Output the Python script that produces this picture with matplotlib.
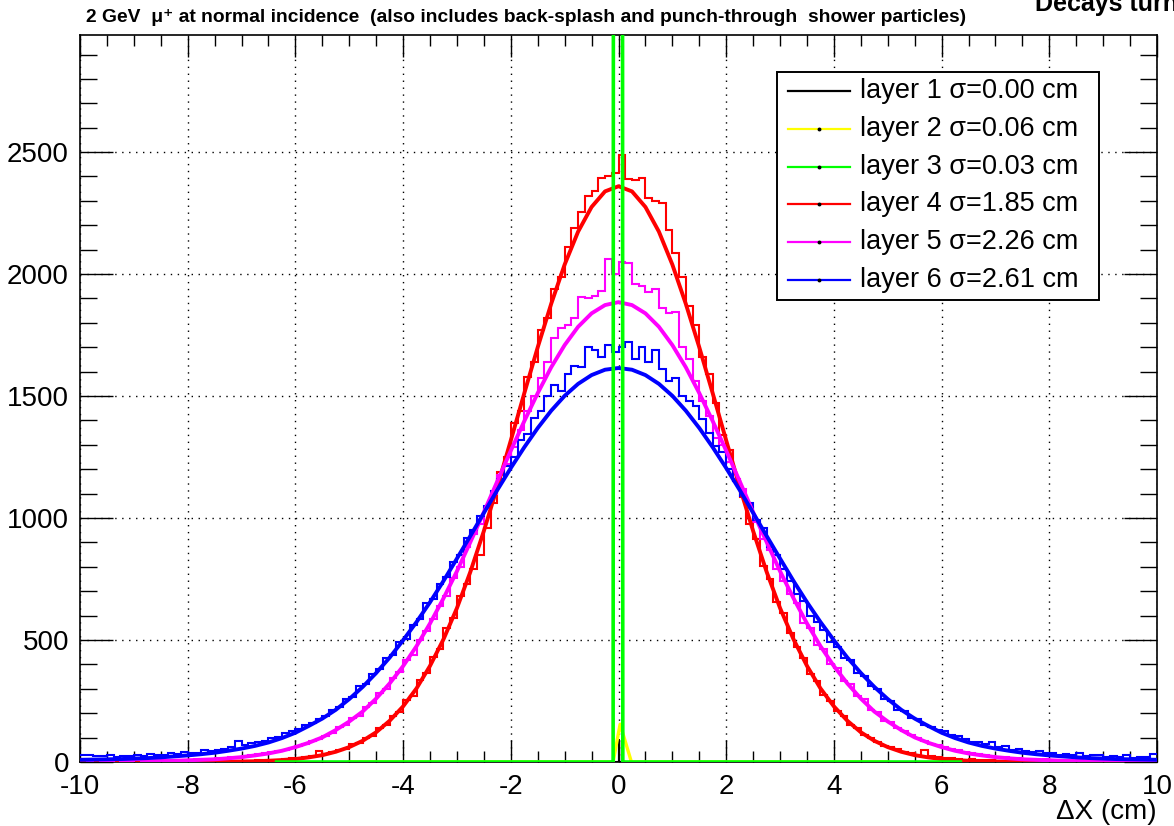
import matplotlib
matplotlib.use("Agg")
import matplotlib.pyplot as plt
import numpy as np
from matplotlib.patches import Rectangle
from matplotlib.ticker import MultipleLocator

plt.rcParams["font.family"] = ["Liberation Sans", "DejaVu Sans"]
plt.rcParams["axes.unicode_minus"] = False

# histogram binning: 160 bins of 0.125 cm over [-10, 10]
bin_edges = np.linspace(-10, 10, 161)

# layer 4 (red) histogram counts, left to right
red_counts = [
    1, 0, 1, 1, 1, 2, 1, 1, 2, 1,
    1, 3, 1, 2, 2, 1, 3, 2, 3, 2,
    4, 3, 4, 5, 5, 6, 7, 8, 9, 10,
    12, 15, 17, 20, 24, 45, 34, 42, 50, 55,
    72, 78, 100, 108, 140, 150, 188, 205, 255, 270,
    335, 365, 430, 462, 548, 590, 680, 730, 790, 850,
    960, 1060, 1190, 1250, 1390, 1440, 1580, 1640, 1770, 1820,
    1940, 1990, 2110, 2190, 2255, 2320, 2340, 2395, 2400, 2415,
    2488, 2390, 2385, 2395, 2310, 2300, 2290, 2180, 2085, 1990,
    1870, 1790, 1660, 1590, 1470, 1340, 1280, 1150, 1085, 975,
    915, 805, 750, 655, 610, 528, 470, 428, 362, 330,
    276, 250, 208, 190, 152, 138, 110, 99, 84, 66,
    60, 52, 41, 36, 30, 49, 26, 22, 18, 15,
    14, 10, 12, 8, 7, 9, 6, 5, 6, 4,
    3, 5, 3, 2, 4, 2, 3, 1, 2, 2,
    1, 3, 1, 2, 1, 1, 2, 1, 1, 2,
]

# layer 5 (magenta) histogram counts
magenta_counts = [
    8, 6, 7, 5, 6, 7, 5, 6, 8, 6,
    6, 6, 7, 8, 8, 9, 10, 11, 12, 13,
    16, 17, 19, 22, 25, 28, 32, 35, 40, 46,
    50, 58, 66, 74, 86, 95, 108, 120, 142, 150,
    180, 190, 226, 240, 282, 298, 345, 370, 420, 440,
    500, 535, 585, 640, 680, 755, 800, 880, 935, 975,
    1040, 1100, 1175, 1220, 1290, 1360, 1440, 1500, 1575, 1640,
    1740, 1780, 1790, 1820, 1905, 1900, 1910, 1930, 2060, 2000,
    2050, 2045, 1960, 1950, 1925, 1940, 1860, 1840, 1845, 1700,
    1650, 1560, 1480, 1420, 1330, 1300, 1230, 1160, 1120, 1040,
    985, 915, 870, 790, 740, 690, 650, 570, 550, 480,
    465, 400, 385, 330, 318, 270, 258, 215, 205, 170,
    162, 140, 126, 110, 98, 88, 75, 68, 60, 52,
    48, 42, 36, 33, 30, 25, 22, 20, 18, 15,
    14, 12, 10, 11, 8, 9, 7, 6, 7, 5,
    6, 4, 5, 4, 3, 4, 3, 2, 3, 2,
]

# layer 6 (blue) histogram counts
blue_counts = [
    28, 30, 26, 24, 28, 22, 26, 24, 27, 25,
    33, 28, 30, 36, 32, 40, 35, 38, 48, 44,
    50, 55, 60, 86, 70, 76, 80, 88, 98, 104,
    118, 128, 135, 150, 160, 178, 190, 212, 225, 258,
    268, 310, 320, 362, 380, 425, 440, 490, 505, 560,
    585, 650, 670, 728, 760, 820, 850, 920, 950, 1010,
    1050, 1110, 1160, 1215, 1250, 1320, 1345, 1410, 1440, 1500,
    1545, 1520, 1590, 1625, 1620, 1700, 1690, 1660, 1710, 1680,
    1700, 1720, 1650, 1700, 1640, 1690, 1610, 1560, 1575, 1500,
    1480, 1460, 1405, 1350, 1295, 1270, 1200, 1150, 1090, 1060,
    990, 960, 880, 850, 790, 740, 690, 660, 600, 575,
    540, 490, 470, 425, 418, 365, 352, 310, 300, 258,
    250, 215, 208, 180, 176, 150, 145, 132, 128, 110,
    105, 95, 80, 84, 72, 80, 62, 66, 48, 52,
    45, 40, 46, 35, 38, 30, 33, 28, 35, 24,
    27, 30, 22, 25, 20, 28, 18, 22, 19, 33,
]

# gaussian fit curves, sampled every 0.25 cm over each fit range
red_fit_x = np.linspace(-7.5, 7.5, 61)
red_fit = [
    1, 1, 2, 3, 5, 8, 12, 19, 28, 42, 61, 87, 122, 169, 228, 302,
    394, 503, 631, 780, 947, 1128, 1318, 1511, 1700, 1878, 2039, 2174,
    2275, 2339, 2360, 2339, 2275, 2174, 2039, 1878, 1700, 1511, 1318,
    1128, 947, 780, 631, 503, 394, 302, 228, 169, 122, 87, 61, 42, 28,
    19, 12, 8, 5, 3, 2, 1, 1,
]
magenta_fit_x = np.linspace(-8.75, 8.75, 71)
magenta_fit = [
    3, 4, 5, 7, 9, 11, 15, 20, 27, 35, 46, 61, 79, 101, 131, 166, 207,
    260, 322, 393, 475, 568, 671, 782, 902, 1024, 1151, 1276, 1397,
    1512, 1618, 1709, 1784, 1839, 1873, 1885, 1873, 1839, 1784, 1709,
    1618, 1512, 1397, 1276, 1151, 1024, 902, 782, 671, 568, 475, 393,
    322, 260, 207, 166, 131, 101, 79, 61, 46, 35, 27, 20, 15, 11, 9,
    7, 5, 4, 3,
]
blue_fit_x = np.linspace(-10, 10, 81)
blue_fit = [
    9, 10, 11, 12, 14, 16, 19, 23, 27, 32, 38, 46, 55, 66, 80, 98, 120,
    148, 178, 214, 258, 308, 365, 428, 499, 574, 655, 742, 834, 927,
    1021, 1115, 1205, 1290, 1369, 1440, 1501, 1550, 1586, 1608, 1615,
    1608, 1586, 1550, 1501, 1440, 1369, 1290, 1205, 1115, 1021, 927,
    834, 742, 655, 574, 499, 428, 365, 308, 258, 214, 178, 148, 120,
    98, 80, 66, 55, 46, 38, 32, 27, 23, 19, 16, 14, 12, 11, 10, 9,
]

# layers 1-3 are single-bin spikes at zero (fit drawn with coarse sampling)
black_x = [-0.15, 0.0, 0.0, 0.0, 0.1]
black_y = [0, 0, 90, 0, 0]
yellow_x = [-5.0, -0.1, 0.03, 0.24, 5.0]
yellow_y = [0, 0, 155, 0, 0]
green_x = [-6.35, -0.1, -0.01, 0.08, 6.35]
green_y = [0, 0, 60000, 0, 0]

layer_labels = [
    "layer 1 σ=0.00 cm",
    "layer 2 σ=0.06 cm",
    "layer 3 σ=0.03 cm",
    "layer 4 σ=1.85 cm",
    "layer 5 σ=2.26 cm",
    "layer 6 σ=2.61 cm",
]
layer_colors = ["black", "#ffff00", "#00ff00", "#ff0000", "#ff00ff", "#0000ff"]

fig = plt.figure(figsize=(11.74, 8.26), dpi=100)
ax = fig.add_axes([80 / 1174, 64 / 826, 1077 / 1174, 727 / 826])

for counts, fx, fy, col in [
    (red_counts, red_fit_x, red_fit, "#ff0000"),
    (magenta_counts, magenta_fit_x, magenta_fit, "#ff00ff"),
    (blue_counts, blue_fit_x, blue_fit, "#0000ff"),
]:
    ax.stairs(counts, bin_edges, baseline=None, edgecolor=col, lw=1.5, zorder=3)
    ax.plot(fx, fy, color=col, lw=2.8, zorder=4, solid_joinstyle="round")

ax.plot(black_x, black_y, color="black", lw=1.5, zorder=5)
ax.plot(yellow_x, yellow_y, color="#ffff00", lw=2.4, zorder=5)
ax.plot(green_x, green_y, color="#00ff00", lw=2.6, zorder=6)

ax.set_xlim(-10, 10)
ax.set_ylim(0, 2980)

ax.xaxis.set_major_locator(MultipleLocator(2))
ax.xaxis.set_minor_locator(MultipleLocator(0.5))
ax.yaxis.set_major_locator(MultipleLocator(500))
ax.yaxis.set_minor_locator(MultipleLocator(100))
ax.tick_params(axis="both", which="both", direction="in", top=True, right=True,
               width=1.0, labelsize=20)
ax.tick_params(axis="x", which="major", length=16, pad=9)
ax.tick_params(axis="x", which="minor", length=8)
ax.tick_params(axis="y", which="major", length=24, pad=8)
ax.tick_params(axis="y", which="minor", length=12)
ax.grid(True, which="major", color="black", linestyle=(0, (1, 4)), linewidth=1.0)
ax.set_axisbelow(True)
for sp in ax.spines.values():
    sp.set_linewidth(1.2)

# legend box drawn by hand, ROOT style
x0, x1, ytop, ybot = 0.6472, 0.9461, 0.9491, 0.6355
ax.add_patch(Rectangle((x0, ybot), x1 - x0, ytop - ybot, transform=ax.transAxes,
                       facecolor="white", edgecolor="black", lw=1.4, zorder=10))
row_step = (0.9230 - 0.6630) / 5
for i, (lab, col) in enumerate(zip(layer_labels, layer_colors)):
    yy = 0.9230 - i * row_step
    ax.plot([0.6574, 0.7149], [yy, yy], color=col, lw=1.6,
            transform=ax.transAxes, zorder=11)
    if i > 0:
        ax.plot([0.6862], [yy], marker="o", ms=1.8, color="black",
                transform=ax.transAxes, zorder=12)
    ax.text(0.7242, yy, lab, transform=ax.transAxes, fontsize=19.5,
            ha="left", va="center", zorder=12)

fig.text(86 / 1174, 1 - 17 / 826,
         "2 GeV  μ⁺ at normal incidence  (also includes back-splash and punch-through  shower particles)",
         fontweight="bold", fontsize=13.9, ha="left", va="center")
fig.text(1035 / 1174, 1 - 11 / 826, "Decays turned off", fontweight="bold",
         fontsize=18, ha="left", va="baseline")
fig.text(1157 / 1174, 1 - 812 / 826, "ΔX (cm)", fontsize=20, ha="right", va="center")

fig.savefig("out.png", dpi=100)
